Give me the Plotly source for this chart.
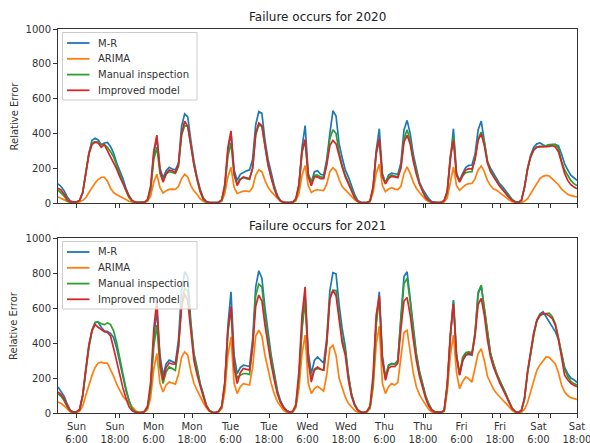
import plotly.graph_objects as go

# ---------------- data (hourly, index 0 = Sunday 0:00 ... 168 = Saturday 24:00) ----------------
HOURS = list(range(169))

MR_2020 = [
    110, 95, 70, 35, 12, 6, 6, 15, 60, 170, 285, 360, 372, 362, 335, 345, 348, 325, 285, 230, 190, 140, 85, 40,
    12, 5, 3, 3, 5, 15, 80, 280, 375, 200, 145, 185, 205, 195, 190, 230, 440, 512, 495, 360, 240, 150, 80, 30,
    8, 3, 2, 2, 4, 15, 90, 300, 400, 190, 130, 165, 175, 185, 190, 250, 450, 525, 515, 360, 250, 170, 100, 45,
    15, 5, 2, 2, 5, 20, 100, 320, 445, 170, 120, 180, 185, 165, 160, 250, 400, 530, 500, 340, 260, 190, 150, 100,
    50, 15, 4, 2, 3, 10, 80, 300, 427, 170, 115, 160, 172, 168, 165, 230, 420, 475, 400, 280, 190, 120, 80, 50,
    25, 8, 3, 2, 3, 12, 60, 250, 427, 170, 130, 170, 205, 216, 218, 280, 420, 471, 360, 240, 200, 169, 135, 110,
    92, 65, 45, 20, 8, 4, 15, 90, 200, 275, 320, 340, 345, 335, 326, 328, 335, 335, 330, 280, 225, 190, 160, 145, 130]
ARIMA_2020 = [
    35, 28, 18, 8, 3, 2, 3, 6, 15, 30, 60, 90, 115, 135, 148, 148, 125, 85, 60, 48, 40, 30, 20, 10,
    5, 2, 1, 2, 4, 10, 40, 120, 165, 90, 58, 70, 78, 80, 78, 95, 140, 165, 150, 100, 70, 50, 25, 10,
    3, 1, 1, 2, 3, 10, 55, 150, 205, 90, 55, 62, 68, 68, 65, 90, 160, 190, 180, 130, 90, 65, 45, 25,
    10, 3, 1, 1, 3, 12, 55, 160, 215, 100, 60, 72, 76, 72, 72, 110, 180, 203, 185, 135, 95, 75, 55, 38,
    20, 8, 2, 1, 2, 8, 60, 170, 222, 100, 65, 80, 88, 80, 77, 95, 170, 207, 170, 120, 85, 60, 40, 20,
    8, 3, 1, 2, 3, 6, 30, 130, 207, 100, 73, 90, 105, 111, 112, 140, 190, 213, 180, 130, 100, 80, 73, 60,
    45, 30, 18, 8, 3, 2, 3, 10, 25, 55, 85, 115, 140, 153, 159, 155, 140, 125, 105, 80, 62, 50, 42, 38, 35]
MANUAL_2020 = [
    75, 60, 40, 12, 4, 5, 6, 15, 60, 170, 285, 345, 352, 350, 335, 335, 320, 295, 265, 215, 165, 120, 70, 30,
    10, 4, 3, 3, 5, 15, 80, 250, 320, 170, 125, 165, 180, 175, 170, 210, 390, 445, 440, 340, 220, 135, 65, 20,
    6, 3, 2, 2, 4, 15, 90, 270, 345, 160, 110, 140, 145, 140, 135, 200, 390, 450, 440, 330, 220, 150, 85, 35,
    12, 4, 2, 2, 5, 20, 95, 290, 360, 160, 120, 160, 160, 150, 148, 230, 370, 421, 400, 290, 215, 160, 115, 70,
    35, 10, 3, 2, 3, 10, 85, 280, 360, 160, 115, 150, 160, 155, 150, 210, 370, 421, 360, 255, 175, 115, 70, 35,
    15, 5, 2, 3, 4, 12, 60, 270, 380, 165, 125, 155, 175, 178, 180, 260, 370, 408, 350, 240, 185, 155, 125, 100,
    78, 55, 35, 18, 6, 3, 15, 90, 195, 265, 305, 320, 322, 325, 330, 335, 335, 337, 315, 240, 190, 160, 130, 111, 100]
IMPROVED_2020 = [
    85, 75, 50, 20, 6, 4, 6, 15, 60, 170, 280, 335, 350, 345, 320, 335, 300, 265, 230, 195, 150, 115, 75, 40,
    15, 5, 3, 3, 5, 20, 100, 300, 390, 190, 120, 170, 190, 185, 175, 220, 400, 470, 440, 330, 220, 140, 70, 25,
    8, 3, 2, 2, 4, 20, 110, 320, 415, 170, 100, 135, 150, 145, 140, 200, 400, 460, 445, 330, 220, 145, 80, 35,
    12, 4, 2, 2, 5, 25, 110, 300, 365, 150, 100, 150, 150, 140, 140, 220, 330, 360, 340, 265, 205, 150, 110, 70,
    30, 10, 3, 2, 3, 12, 95, 290, 370, 150, 110, 140, 153, 150, 145, 200, 350, 389, 340, 240, 165, 110, 65, 30,
    15, 5, 2, 3, 4, 14, 70, 260, 360, 160, 120, 160, 190, 197, 195, 250, 360, 398, 330, 230, 180, 150, 120, 95,
    75, 50, 30, 15, 5, 3, 15, 90, 195, 265, 305, 322, 325, 322, 322, 325, 330, 322, 295, 225, 170, 130, 105, 92, 82]

MR_2021 = [
    149, 125, 95, 50, 15, 6, 6, 20, 100, 250, 380, 475, 518, 520, 490, 470, 465, 455, 430, 370, 290, 206, 130, 70,
    25, 6, 3, 3, 8, 30, 150, 420, 590, 330, 215, 280, 302, 295, 285, 420, 700, 807, 780, 520, 340, 260, 170, 111,
    45, 15, 4, 3, 8, 30, 160, 500, 693, 330, 225, 260, 273, 270, 265, 420, 720, 813, 770, 600, 450, 330, 230, 130,
    70, 35, 15, 5, 8, 40, 200, 500, 670, 350, 225, 300, 320, 300, 285, 430, 700, 802, 795, 620, 480, 378, 220, 111,
    50, 20, 6, 3, 8, 30, 180, 520, 693, 330, 206, 270, 282, 280, 300, 550, 780, 807, 650, 480, 340, 240, 168, 100,
    53, 20, 6, 3, 4, 12, 150, 430, 645, 330, 216, 300, 330, 335, 330, 450, 680, 725, 600, 450, 340, 280, 225, 185,
    149, 110, 63, 25, 6, 3, 15, 80, 230, 340, 450, 530, 565, 578, 550, 520, 490, 464, 420, 330, 260, 225, 200, 190, 175]
ARIMA_2021 = [
    63, 55, 40, 20, 6, 3, 4, 10, 40, 100, 160, 215, 260, 285, 290, 285, 285, 250, 210, 165, 125, 95, 75, 60,
    35, 15, 5, 3, 6, 20, 90, 250, 340, 170, 120, 160, 177, 170, 165, 220, 320, 349, 330, 240, 170, 130, 90, 60,
    30, 10, 3, 2, 6, 25, 120, 330, 435, 170, 111, 150, 168, 165, 160, 260, 440, 473, 440, 330, 240, 170, 110, 65,
    40, 15, 4, 2, 6, 30, 140, 340, 445, 170, 111, 139, 153, 140, 126, 220, 370, 387, 330, 200, 140, 90, 55, 35,
    15, 5, 2, 2, 6, 25, 140, 390, 496, 170, 111, 150, 168, 160, 175, 330, 460, 473, 350, 230, 150, 105, 75, 50,
    20, 6, 2, 2, 4, 10, 120, 330, 445, 230, 139, 180, 206, 195, 177, 250, 340, 368, 300, 210, 168, 135, 111, 90,
    73, 55, 34, 15, 4, 2, 5, 20, 60, 120, 190, 244, 275, 300, 320, 318, 300, 280, 230, 160, 120, 100, 88, 82, 78]
MANUAL_2021 = [
    110, 95, 70, 35, 10, 4, 5, 18, 95, 245, 375, 470, 515, 520, 510, 505, 515, 505, 470, 400, 320, 225, 140, 70,
    25, 8, 3, 3, 8, 30, 140, 380, 502, 260, 168, 235, 263, 255, 244, 370, 630, 712, 700, 500, 330, 250, 165, 105,
    45, 15, 4, 3, 8, 35, 170, 460, 600, 280, 200, 215, 225, 225, 220, 380, 670, 737, 720, 560, 420, 310, 215, 120,
    65, 32, 12, 5, 8, 40, 200, 480, 640, 300, 200, 245, 254, 250, 245, 400, 660, 702, 700, 560, 420, 355, 210, 105,
    50, 18, 6, 3, 8, 30, 170, 500, 660, 300, 200, 275, 282, 280, 300, 530, 740, 769, 640, 470, 330, 230, 160, 95,
    50, 18, 6, 3, 4, 12, 150, 440, 640, 330, 225, 320, 345, 349, 345, 460, 690, 731, 600, 450, 340, 280, 225, 185,
    145, 105, 65, 28, 8, 3, 15, 80, 230, 340, 445, 525, 555, 565, 568, 570, 550, 510, 430, 330, 250, 210, 180, 168, 160]
IMPROVED_2021 = [
    120, 105, 80, 40, 12, 5, 6, 20, 105, 260, 390, 470, 505, 490, 475, 465, 460, 440, 370, 290, 210, 145, 85, 35,
    12, 5, 3, 3, 10, 40, 180, 480, 645, 300, 187, 260, 286, 280, 279, 380, 600, 683, 640, 450, 300, 220, 150, 95,
    40, 12, 4, 3, 10, 40, 180, 470, 610, 260, 168, 230, 254, 250, 245, 380, 610, 674, 640, 500, 380, 280, 190, 110,
    60, 30, 12, 5, 10, 50, 240, 560, 721, 300, 177, 250, 263, 250, 245, 400, 650, 702, 670, 520, 400, 330, 190, 95,
    45, 15, 5, 3, 10, 40, 220, 560, 668, 300, 187, 255, 267, 265, 285, 480, 640, 660, 560, 420, 300, 210, 140, 85,
    40, 15, 5, 3, 5, 15, 170, 450, 622, 320, 216, 300, 335, 340, 335, 440, 620, 655, 560, 420, 320, 260, 210, 170,
    135, 100, 60, 25, 8, 3, 15, 85, 240, 350, 460, 530, 560, 570, 565, 555, 540, 500, 420, 320, 216, 190, 170, 158, 150]

SERIES_NAMES = ["M-R", "ARIMA", "Manual inspection", "Improved model"]
COLORS = ["#1f77b4", "#ff7f0e", "#2ca02c", "#d62728"]
PANEL_TITLES = ["Failure occurs for 2020", "Failure occurs for 2021"]
TICK_LABELS = ["Sun<br>6:00", "Sun<br>18:00", "Mon<br>6:00", "Mon<br>18:00", "Tue<br>6:00", "Tue<br>18:00",
               "Wed<br>6:00", "Wed<br>18:00", "Thu<br>6:00", "Thu<br>18:00", "Fri<br>6:00", "Fri<br>18:00",
               "Sat<br>6:00", "Sat<br>18:00"]
TICK_POS = [6.0, 18.46, 30.92, 43.38, 55.85, 68.31, 80.77, 93.23, 105.69, 118.15, 130.62, 143.08, 155.54, 168.0]
MINOR_TICKS = [20, 41, 119, 140.5, 159.3]
Y_TICKS = [0, 200, 400, 600, 800, 1000]

panels = [
    [MR_2020, ARIMA_2020, MANUAL_2020, IMPROVED_2020],
    [MR_2021, ARIMA_2021, MANUAL_2021, IMPROVED_2021],
]
for p in panels:
    for s in p:
        assert len(s) == len(HOURS), len(s)

# ---------------- layout constants (pixels) ----------------
W, H = 590, 443
ML, MRG, MT, MB = 58, 13, 29, 30
PW = W - ML - MRG
PH = H - MT - MB
PANEL_PX = [(29, 203), (238, 413)]  # top/bottom pixel rows of each panel
FONT = "DejaVu Sans"
TXT = "#333333"

fig = go.Figure()
axis_ids = [("x", "y"), ("x2", "y2")]
for pi, series in enumerate(panels):
    xa, ya = axis_ids[pi]
    for si, vals in enumerate(series):
        fig.add_trace(go.Scatter(
            x=HOURS, y=vals, mode="lines", name=SERIES_NAMES[si],
            line=dict(color=COLORS[si], width=1.7),
            xaxis=xa, yaxis=ya, showlegend=False, hoverinfo="skip"))


def ydom(top_px, bot_px):
    return [(H - MB - bot_px) / PH, (H - MB - top_px) / PH]


common_x = dict(range=[0, 168.001], showgrid=False, zeroline=False, showline=True, mirror=True,
                linecolor=TXT, linewidth=1, ticks="outside", ticklen=4, tickwidth=1, tickcolor=TXT,
                tickmode="array", tickvals=TICK_POS, ticktext=TICK_LABELS,
                ticklabeloverflow="allow", automargin=False,
                tickfont=dict(family=FONT, size=10, color=TXT),
                minor=dict(tickmode="array", tickvals=MINOR_TICKS, ticks="outside", ticklen=4,
                           tickwidth=1, tickcolor=TXT),
                domain=[0, 1])
common_y = dict(range=[0, 1000], showgrid=False, zeroline=False, showline=True, mirror=True,
                linecolor=TXT, linewidth=1, ticks="outside", ticklen=4, tickwidth=1, tickcolor=TXT,
                automargin=False,
                tickmode="array", tickvals=Y_TICKS, tickfont=dict(family=FONT, size=10, color=TXT))

fig.update_layout(
    width=W, height=H,
    margin=dict(l=ML, r=MRG, t=MT, b=MB, autoexpand=False),
    paper_bgcolor="white", plot_bgcolor="white",
    font=dict(family=FONT, size=10, color=TXT),
    xaxis=dict(common_x, anchor="y", showticklabels=False),
    yaxis=dict(common_y, anchor="x", domain=ydom(*PANEL_PX[0])),
    xaxis2=dict(common_x, anchor="y2", showticklabels=True),
    yaxis2=dict(common_y, anchor="x2", domain=ydom(*PANEL_PX[1])),
)

annotations = []
shapes = []
for pi in range(2):
    xa, ya = axis_ids[pi]
    xref = xa + " domain"
    yref = ya + " domain"
    top_px, bot_px = PANEL_PX[pi]
    ph = bot_px - top_px

    def dx(px):
        return (px - ML) / PW

    def dy(py, top_px=top_px, ph=ph):
        return 1 - (py - top_px) / ph

    # panel title
    annotations.append(dict(text=PANEL_TITLES[pi], xref=xref, yref=yref, x=0.5, y=1,
                            xanchor="center", yanchor="bottom", yshift=3, showarrow=False,
                            font=dict(family=FONT, size=12, color="#222222")))
    # y-axis title
    annotations.append(dict(text="Relative Error", xref="paper", yref=yref, x=(13.5 - ML) / PW, y=0.5,
                            xanchor="center", yanchor="middle", textangle=-90, showarrow=False,
                            font=dict(family=FONT, size=10, color=TXT)))
    # legend box
    shapes.append(dict(type="rect", xref=xref, yref=yref, x0=dx(62.5), x1=dx(197),
                       y0=dy(top_px + 71), y1=dy(top_px + 3.5), layer="above",
                       fillcolor="rgba(255,255,255,0.8)", line=dict(color="#cccccc", width=1)))
    offsets = [14, 29.8, 45.6, 61.3]
    for si, name in enumerate(SERIES_NAMES):
        yy = dy(top_px + offsets[si])
        shapes.append(dict(type="line", xref=xref, yref=yref, x0=dx(67), x1=dx(89.5), y0=yy, y1=yy,
                           layer="above", line=dict(color=COLORS[si], width=1.8)))
        annotations.append(dict(text=name, xref=xref, yref=yref, x=dx(96), y=yy,
                                xanchor="left", yanchor="middle", showarrow=False,
                                font=dict(family=FONT, size=10, color=TXT)))

fig.update_layout(annotations=annotations, shapes=shapes)
# remove the default 8px page margin synchronously, so the figure starts at the page origin
fig.write_html("out.html", config={"displayModeBar": False},
               post_script="});document.body.style.margin='0';(function(){")
